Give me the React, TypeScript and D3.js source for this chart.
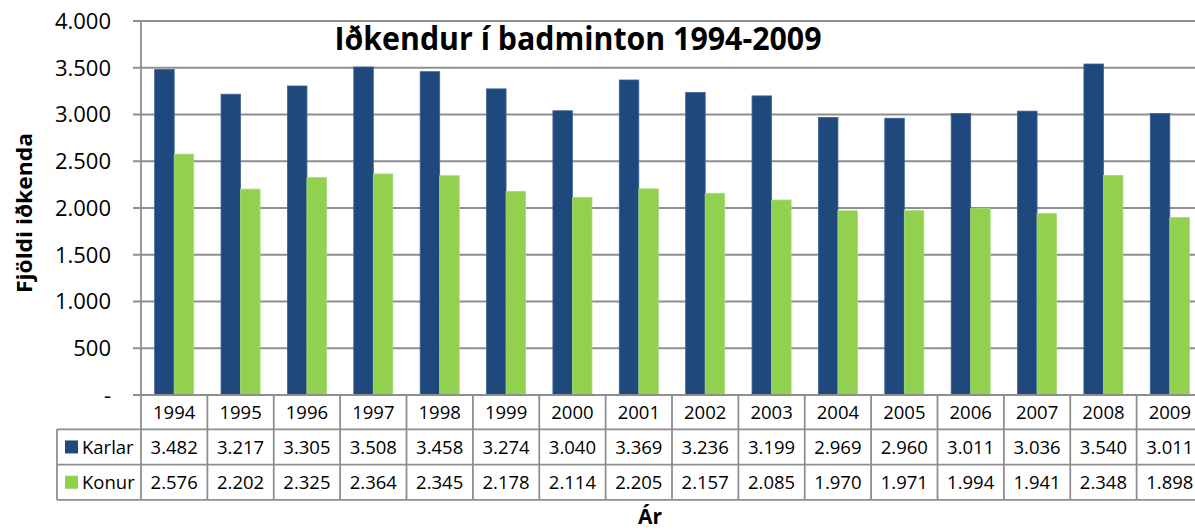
import { useMemo } from 'react';
import * as d3 from 'd3';

const years = ['1994', '1995', '1996', '1997', '1998', '1999', '2000', '2001', '2002', '2003', '2004', '2005', '2006', '2007', '2008', '2009'];
const karlar = [3482, 3217, 3305, 3508, 3458, 3274, 3040, 3369, 3236, 3199, 2969, 2960, 3011, 3036, 3540, 3011];
const konur = [2576, 2202, 2325, 2364, 2345, 2178, 2114, 2205, 2157, 2085, 1970, 1971, 1994, 1941, 2348, 1898];
const seriesNames = ['Karlar', 'Konur'];
const seriesColors = ['#1F497D', '#92D050'];
const yTicks = [0, 500, 1000, 1500, 2000, 2500, 3000, 3500, 4000];

const W = 1195;
const H = 530;
const FONT = "'Open Sans', 'Noto Sans', sans-serif";
const GRID = '#8e8e8e';

const fmt = (v: number) => (v === 0 ? '-' : d3.format(',')(v).replace(/,/g, '.'));

export default function App() {
  const plot = { left: 141, right: 1203, top: 21, bottom: 395 };
  const rowH = 35.3;
  const legendLeft = 57;

  const x = useMemo(() => d3.scaleBand<string>().domain(years).range([plot.left, plot.right]).padding(0), []);
  const inner = useMemo(
    () => d3.scaleBand<string>().domain(seriesNames).range([0, x.bandwidth()]).paddingInner(0).paddingOuter(0.7),
    [x]
  );
  const y = useMemo(() => d3.scaleLinear().domain([0, 4000]).range([plot.bottom, plot.top]), []);

  const series = [karlar, konur];
  const headerBottom = plot.bottom + 34.3;
  const tableBottom = headerBottom + rowH * 2;

  return (
    <svg width={W} height={H} style={{ position: 'absolute', left: 0, top: 0, background: '#fff' }} fontFamily={FONT}>
      {/* gridlines + ticks */}
      {yTicks.map((t) => (
        <g key={t}>
          <line x1={plot.left - 8} x2={W} y1={y(t)} y2={y(t)} stroke={GRID} strokeWidth={1.8} />
          <text x={111} y={y(t)} dy="0.36em" textAnchor="end" fontSize={22} fill="#000">
            {fmt(t)}
          </text>
        </g>
      ))}

      {/* bars */}
      {years.map((yr, i) => (
        <g key={yr} transform={`translate(${x(yr)},0)`}>
          {seriesNames.map((s, j) => (
            <rect
              key={s}
              x={inner(s)}
              y={y(series[j][i])}
              width={inner.bandwidth()}
              height={y(0) - y(series[j][i])}
              fill={seriesColors[j]}
              stroke={j === 0 ? '#3b6396' : '#a6da78'}
              strokeWidth={0.8}
            />
          ))}
        </g>
      ))}

      {/* axis line */}
      <line x1={plot.left} x2={plot.left} y1={plot.top} y2={tableBottom} stroke={GRID} strokeWidth={1.8} />
      <line x1={plot.left - 8} x2={W} y1={plot.bottom} y2={plot.bottom} stroke={GRID} strokeWidth={1.8} />

      {/* data table */}
      {years.map((yr) => (
        <line key={yr} x1={(x(yr) as number) + x.bandwidth()} x2={(x(yr) as number) + x.bandwidth()} y1={plot.bottom} y2={tableBottom} stroke={GRID} strokeWidth={1.8} />
      ))}
      {[headerBottom, headerBottom + rowH, tableBottom].map((ly) => (
        <line key={ly} x1={legendLeft} x2={W} y1={ly} y2={ly} stroke={GRID} strokeWidth={1.8} />
      ))}
      <line x1={legendLeft} x2={legendLeft} y1={headerBottom} y2={tableBottom} stroke={GRID} strokeWidth={1.8} />

      {years.map((yr) => (
        <text key={yr} x={(x(yr) as number) + x.bandwidth() / 2} y={(plot.bottom + headerBottom) / 2} dy="0.36em" textAnchor="middle" fontSize={18.5}>
          {yr}
        </text>
      ))}
      {seriesNames.map((s, j) => {
        const cy = headerBottom + rowH * j + rowH / 2;
        return (
          <g key={s}>
            <rect x={65} y={cy - 6.5} width={13} height={13} fill={seriesColors[j]} />
            <text x={82} y={cy} dy="0.36em" fontSize={18.5}>
              {s}
            </text>
            {years.map((yr, i) => (
              <text key={yr} x={(x(yr) as number) + x.bandwidth() / 2} y={cy} dy="0.36em" textAnchor="middle" fontSize={18.5}>
                {fmt(series[j][i])}
              </text>
            ))}
          </g>
        );
      })}

      {/* title and axis labels */}
      <text x={578} y={50} textAnchor="middle" fontSize={33} fontWeight={700} textLength={487} lengthAdjust="spacingAndGlyphs">
        Iðkendur í badminton 1994-2009
      </text>
      <text
        transform={`translate(32,213) rotate(-90)`}
        textAnchor="middle"
        fontSize={22}
        fontWeight={700}
        textLength={160}
        lengthAdjust="spacingAndGlyphs"
      >
        Fjöldi iðkenda
      </text>
      <text x={650} y={524} textAnchor="middle" fontSize={21} fontWeight={700}>
        Ár
      </text>
    </svg>
  );
}
